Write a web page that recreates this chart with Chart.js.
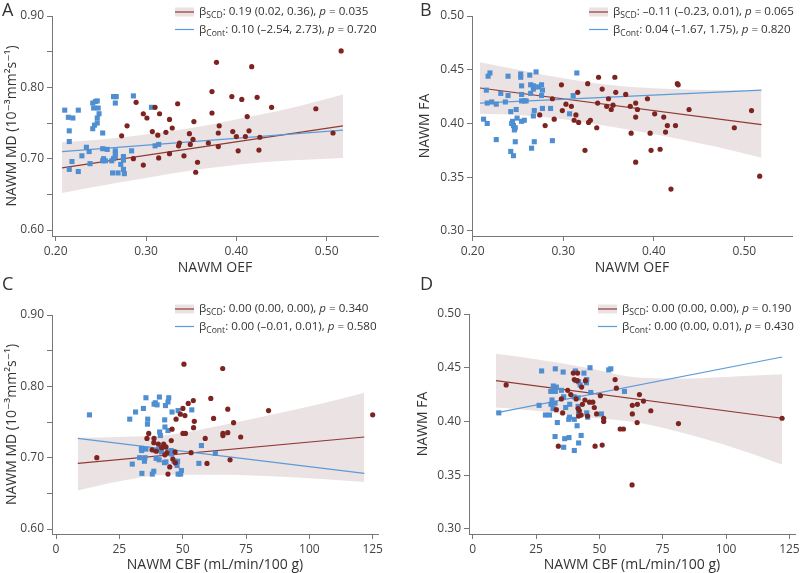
<!DOCTYPE html>
<html>
<head>
<meta charset="utf-8">
<script src="https://cdn.jsdelivr.net/npm/chart.js@4.4.1/dist/chart.umd.min.js"></script>
<style>
  body { margin: 0; background: #fff; width: 800px; height: 573px; overflow: hidden; position: relative; }
  canvas { position: absolute; }
</style>
</head>
<body>
<canvas id="cA" width="400" height="280" style="left:0;top:0"></canvas>
<canvas id="cB" width="400" height="280" style="left:400px;top:0"></canvas>
<canvas id="cC" width="400" height="301" style="left:0;top:272px"></canvas>
<canvas id="cD" width="400" height="301" style="left:400px;top:272px"></canvas>
<script>
// ---- data ----
// A: NAWM OEF vs NAWM MD
const oefScdA = [0.516,0.378,0.417,0.373,0.395,0.406,0.423,0.289,0.335,0.310,0.439,0.488,0.297,0.315,0.301,0.326,0.373,0.412,0.353,0.279,0.381,0.329,0.307,0.322,0.396,0.414,0.380,0.348,0.313,0.273,0.352,0.400,0.410,0.426,0.507,0.337,0.336,0.349,0.369,0.380,0.326,0.402,0.425,0.342,0.314,0.286,0.357,0.297,0.355]
const mdScdA = [0.851,0.835,0.829,0.794,0.787,0.783,0.786,0.779,0.777,0.772,0.772,0.770,0.763,0.763,0.757,0.755,0.764,0.759,0.752,0.746,0.746,0.743,0.738,0.737,0.738,0.739,0.736,0.735,0.733,0.732,0.727,0.731,0.731,0.730,0.736,0.722,0.718,0.720,0.722,0.717,0.707,0.711,0.712,0.704,0.701,0.700,0.695,0.691,0.681]
const oefContA = [0.210,0.214,0.219,0.225,0.215,0.215,0.241,0.244,0.246,0.242,0.247,0.248,0.246,0.246,0.243,0.241,0.252,0.264,0.266,0.267,0.266,0.286,0.306,0.234,0.237,0.229,0.218,0.215,0.225,0.238,0.252,0.257,0.253,0.255,0.252,0.262,0.264,0.266,0.266,0.266,0.275,0.275,0.275,0.276,0.263,0.269,0.284,0.310,0.314,0.272]
const mdContA = [0.768,0.758,0.757,0.768,0.739,0.724,0.778,0.780,0.781,0.771,0.771,0.763,0.757,0.750,0.747,0.742,0.736,0.787,0.787,0.787,0.778,0.788,0.772,0.716,0.710,0.704,0.696,0.685,0.682,0.693,0.714,0.713,0.700,0.697,0.697,0.697,0.700,0.703,0.711,0.707,0.703,0.698,0.685,0.679,0.680,0.680,0.711,0.718,0.720,0.692]
const fitXA = [0.207, 0.518]
const fitScdA = [0.687, 0.746]
const fitContA = [0.710, 0.740]
const bandXA = [0.207, 0.25, 0.30, 0.36, 0.42, 0.47, 0.518]
const bandHiA = [0.723, 0.727, 0.734, 0.745, 0.760, 0.774, 0.790]
const bandLoA = [0.652, 0.662, 0.673, 0.685, 0.694, 0.698, 0.701]
const legendA = [['SCD', ': 0.19 (0.02, 0.36), ', ' = 0.035'], ['Cont', ': 0.10 (\u20132.54, 2.73), ', ' = 0.720']]

// B: NAWM OEF vs NAWM FA
const oefScdB = [0.517,0.419,0.380,0.324,0.397,0.407,0.489,0.337,0.375,0.396,0.413,0.415,0.424,0.280,0.290,0.274,0.312,0.317,0.328,0.330,0.314,0.299,0.309,0.303,0.338,0.348,0.353,0.355,0.350,0.288,0.374,0.382,0.380,0.380,0.401,0.411,0.393,0.298,0.316,0.327,0.339,0.343,0.357,0.358,0.369,0.426,0.427,0.439,0.508]
const faScdB = [0.351,0.339,0.364,0.375,0.375,0.376,0.396,0.396,0.391,0.391,0.392,0.398,0.398,0.398,0.404,0.408,0.403,0.401,0.401,0.403,0.408,0.412,0.416,0.418,0.419,0.416,0.413,0.417,0.423,0.423,0.416,0.413,0.419,0.406,0.409,0.406,0.423,0.436,0.429,0.437,0.443,0.432,0.443,0.429,0.427,0.437,0.436,0.413,0.412]
const oefContB = [0.212,0.216,0.215,0.217,0.219,0.216,0.221,0.226,0.231,0.226,0.236,0.239,0.239,0.242,0.248,0.244,0.243,0.245,0.247,0.246,0.249,0.247,0.242,0.245,0.253,0.253,0.254,0.254,0.254,0.257,0.259,0.254,0.257,0.263,0.264,0.267,0.267,0.268,0.264,0.265,0.267,0.268,0.268,0.270,0.273,0.276,0.277,0.276,0.277,0.286,0.288,0.307,0.311,0.315]
const faContB = [0.404,0.400,0.431,0.444,0.447,0.419,0.420,0.418,0.428,0.385,0.420,0.444,0.426,0.411,0.413,0.402,0.400,0.398,0.396,0.394,0.405,0.383,0.374,0.370,0.446,0.443,0.435,0.427,0.421,0.421,0.421,0.402,0.403,0.445,0.436,0.435,0.432,0.434,0.428,0.377,0.407,0.412,0.383,0.448,0.434,0.436,0.431,0.426,0.414,0.414,0.384,0.409,0.426,0.447]
const fitXB = [0.208, 0.519]
const fitScdB = [0.433, 0.399]
const fitContB = [0.419, 0.431]
const bandXB = [0.208, 0.25, 0.30, 0.36, 0.42, 0.47, 0.519]
const bandHiB = [0.457, 0.450, 0.442, 0.435, 0.432, 0.431, 0.431]
const bandLoB = [0.409, 0.408, 0.404, 0.396, 0.387, 0.378, 0.368]
const legendB = [['SCD', ': \u20130.11 (\u20130.23, 0.01), ', ' = 0.065'], ['Cont', ': 0.04 (\u20131.67, 1.75), ', ' = 0.820']]

// C: NAWM CBF vs NAWM MD
const cbfScdC = [125.0,83.9,67.8,65.8,50.5,61.1,54.2,52.2,50.1,49.1,50.9,47.4,62.2,54.6,70.1,45.8,54.3,36.6,50.1,51.1,65.9,65.9,67.8,72.9,35.9,38.7,45.5,58.9,38.6,40.4,42.5,43.4,41.7,37.9,39.6,43.8,47.0,53.3,16.1,43.0,46.1,68.7,59.6,44.9,44.2,47.1]
const mdScdC = [0.760,0.766,0.768,0.825,0.831,0.783,0.780,0.776,0.769,0.761,0.759,0.754,0.755,0.751,0.749,0.740,0.742,0.734,0.734,0.734,0.734,0.731,0.735,0.729,0.727,0.727,0.724,0.727,0.721,0.719,0.719,0.715,0.714,0.711,0.709,0.707,0.708,0.707,0.700,0.704,0.698,0.697,0.692,0.687,0.677,0.693]
const cbfContC = [13.2,35.5,40.8,44.5,39.2,38.7,39.9,44.2,43.2,34.5,31.4,48.2,45.8,53.6,29.1,36.2,36.1,42.9,43.0,44.2,40.9,41.2,33.7,33.8,35.5,39.2,40.5,41.6,45.5,45.7,57.4,62.9,33.0,35.1,34.9,30.1,39.5,40.7,43.4,42.8,46.6,48.0,47.5,47.8,56.4,49.5,38.6,38.0,33.9,48.2,49.2]
const mdContC = [0.760,0.784,0.785,0.784,0.777,0.775,0.774,0.778,0.773,0.769,0.764,0.766,0.764,0.767,0.754,0.754,0.747,0.753,0.743,0.738,0.736,0.731,0.713,0.710,0.712,0.710,0.712,0.708,0.710,0.705,0.717,0.706,0.700,0.700,0.695,0.691,0.699,0.697,0.694,0.693,0.695,0.695,0.692,0.689,0.692,0.682,0.681,0.677,0.678,0.677,0.677]
const fitXC = [8.6, 121.7]
const fitScdC = [0.692, 0.729]
const fitContC = [0.727, 0.678]
const bandXC = [8.6, 25, 45, 65, 85, 105, 121.7]
const bandHiC = [0.728, 0.729, 0.732, 0.745, 0.760, 0.776, 0.791]
const bandLoC = [0.654, 0.667, 0.676, 0.676, 0.674, 0.670, 0.666]
const legendC = [['SCD', ': 0.00 (0.00, 0.00), ', ' = 0.340'], ['Cont', ': 0.00 (\u20130.01, 0.01), ', ' = 0.580']]

// D: NAWM CBF vs NAWM FA
const cbfScdD = [13.2,122.1,81.2,70.3,67.4,65.8,65.0,63.0,63.0,64.9,58.2,59.5,62.9,56.2,56.7,51.7,51.7,51.1,48.3,33.8,39.7,41.4,40.1,41.3,44.5,43.0,37.5,35.0,38.7,40.8,44.3,46.1,47.4,43.3,48.0,41.6,33.0,35.5,42.1,41.8,48.9,42.8,45.3,50.4]
const faScdD = [0.434,0.403,0.398,0.410,0.419,0.425,0.416,0.415,0.407,0.399,0.393,0.393,0.341,0.439,0.431,0.403,0.400,0.378,0.377,0.377,0.445,0.445,0.439,0.438,0.438,0.432,0.429,0.421,0.425,0.421,0.420,0.418,0.418,0.416,0.413,0.412,0.411,0.408,0.410,0.405,0.407,0.406,0.405,0.424]
const cbfContD = [10.3,27.2,32.6,35.7,40.5,43.9,46.3,53.7,54.5,40.8,41.8,42.4,45.0,44.9,31.8,33.0,32.6,30.8,35.0,46.6,59.9,31.3,30.9,35.9,40.0,41.6,32.5,38.3,26.2,36.7,41.6,31.7,28.7,30.3,38.2,37.9,40.1,41.8,45.0,45.4,50.8,33.4,41.2,32.5,36.3,38.0,42.8,41.8,35.9,40.1]
const faContD = [0.408,0.447,0.449,0.446,0.447,0.445,0.450,0.448,0.449,0.438,0.437,0.434,0.439,0.436,0.433,0.432,0.428,0.428,0.429,0.427,0.428,0.420,0.416,0.423,0.423,0.422,0.417,0.416,0.415,0.413,0.414,0.412,0.406,0.406,0.404,0.402,0.402,0.408,0.408,0.404,0.407,0.399,0.396,0.386,0.384,0.385,0.387,0.380,0.376,0.373]
const fitXD = [9.2, 122.1]
const fitScdD = [0.438, 0.403]
const fitContD = [0.408, 0.460]
const bandXD = [9.2, 25, 45, 65, 85, 105, 122.1]
const bandHiD = [0.463, 0.458, 0.450, 0.441, 0.440, 0.442, 0.444]
const bandLoD = [0.413, 0.410, 0.404, 0.399, 0.388, 0.374, 0.360]
const legendD = [['SCD', ': 0.00 (0.00, 0.00), ', ' = 0.190'], ['Cont', ': 0.00 (0.00, 0.01), ', ' = 0.430']]

// tick values
const oefTicks = [0.20, 0.30, 0.40, 0.50]
const cbfTicks = [0, 25, 50, 75, 100, 125]
const mdTicks = [0.60, 0.65, 0.70, 0.75, 0.80, 0.85, 0.90]
const faTicks = [0.30, 0.35, 0.40, 0.45, 0.50]

// ---- styling ----
const BAND = '#ebe2e3', RED = '#7e2420', RED_LINE = '#8f3a35', BLUE = '#4f8ed0', BLUE_LINE = '#5c9bd9'
const FONT = '"Open Sans", "DejaVu Sans", sans-serif'
const MD_TITLE = 'NAWM MD (10\u207B\u00B3mm\u00B2s\u207B\u00B9)'

function zip(xs, ys) { return xs.map((x, i) => ({ x: x, y: ys[i] })) }
const fmt2 = v => v.toFixed(2)
const fmtMd = v => (Math.round(v * 100) % 10 === 0 ? v.toFixed(2) : '')
const fmtInt = v => String(v)

// panel letter + custom legend with subscripts
const deco = {
  id: 'deco',
  afterDraw(chart, args, o) {
    const ctx = chart.ctx
    ctx.save()
    ctx.fillStyle = '#333'
    ctx.font = '18px ' + FONT
    ctx.textBaseline = 'alphabetic'
    ctx.fillText(o.letter, o.letterX, o.letterY)
    o.rows.forEach((row, i) => {
      const y = o.legendY + i * 17.5
      if (i === 0) { ctx.fillStyle = BAND; ctx.fillRect(o.legendX, y - 4.5, 19, 9) }
      ctx.strokeStyle = i === 0 ? RED_LINE : BLUE_LINE
      ctx.lineWidth = 1.2
      ctx.beginPath(); ctx.moveTo(o.legendX, y); ctx.lineTo(o.legendX + 19, y); ctx.stroke()
      let x = o.legendX + 24
      ctx.fillStyle = '#333'
      ctx.textBaseline = 'middle'
      const put = (t, font, dy) => { ctx.font = font; ctx.fillText(t, x, y + dy); x += ctx.measureText(t).width }
      put('\u03B2', '11.6px ' + FONT, 0)
      put(row[0], '8.6px ' + FONT, 4)
      put(row[1], '11.6px ' + FONT, 0)
      put('p', 'italic 11.6px ' + FONT, 0)
      put(row[2], '11.6px ' + FONT, 0)
    })
    ctx.restore()
  }
}

function axis(min, max, ticks, fmt, title, size, isX, titlePadBottom) {
  return {
    type: 'linear', min: min, max: max,
    afterBuildTicks: s => { s.ticks = ticks.map(v => ({ value: v })) },
    afterFit: s => {
      if (isX) s.height = size; else s.width = size
      s.paddingLeft = s.paddingRight = s.paddingTop = s.paddingBottom = 0
    },
    ticks: { callback: fmt, color: '#444', font: { family: FONT, size: 12 }, padding: 3, maxRotation: 0, autoSkip: false },
    grid: { drawOnChartArea: false, tickLength: 5, color: '#777' },
    border: { color: '#777', width: 1 },
    title: { display: true, text: title, color: '#333', font: { family: FONT, size: 14 }, padding: { top: 4, bottom: titlePadBottom } }
  }
}

function panel(id, p) {
  new Chart(document.getElementById(id), {
    type: 'scatter',
    data: {
      datasets: [
        { type: 'line', data: zip(p.bandX, p.bandHi), fill: '+1', backgroundColor: BAND, borderColor: 'rgba(0,0,0,0)', borderWidth: 0, pointRadius: 0, showLine: true, cubicInterpolationMode: 'monotone', order: 6 },
        { type: 'line', data: zip(p.bandX, p.bandLo), fill: false, borderColor: 'rgba(0,0,0,0)', borderWidth: 0, pointRadius: 0, showLine: true, cubicInterpolationMode: 'monotone', order: 5 },
        { type: 'line', data: zip(p.fitX, p.fitScd), fill: false, borderColor: RED_LINE, borderWidth: 1.2, pointRadius: 0, showLine: true, order: 4 },
        { type: 'line', data: zip(p.fitX, p.fitCont), fill: false, borderColor: BLUE_LINE, borderWidth: 1.2, pointRadius: 0, showLine: true, order: 3 },
        { data: zip(p.contX, p.contY), pointStyle: 'rect', pointRadius: 3.6, backgroundColor: BLUE, borderWidth: 0, order: 2 },
        { data: zip(p.scdX, p.scdY), pointStyle: 'circle', pointRadius: 2.6, backgroundColor: RED, borderWidth: 0, order: 1 }
      ]
    },
    options: {
      responsive: false,
      animation: false,
      layout: { padding: p.pad },
      plugins: {
        legend: { display: false },
        tooltip: { enabled: false },
        deco: p.deco
      },
      scales: { x: p.x, y: p.y }
    },
    plugins: [deco]
  })
}

panel('cA', {
  scdX: oefScdA, scdY: mdScdA, contX: oefContA, contY: mdContA,
  fitX: fitXA, fitScd: fitScdA, fitCont: fitContA, bandX: bandXA, bandHi: bandHiA, bandLo: bandLoA,
  pad: { left: 0, top: 16, right: 22, bottom: 0 },
  x: axis(0.1959, 0.5568, oefTicks, fmt2, 'NAWM OEF', 44, true, 4),
  y: axis(0.5916, 0.90, mdTicks, fmtMd, MD_TITLE, 52, false, 4),
  deco: { letter: 'A', letterX: 2, letterY: 16, rows: legendA, legendX: 175, legendY: 12 }
})

panel('cB', {
  scdX: oefScdB, scdY: faScdB, contX: oefContB, contY: faContB,
  fitX: fitXB, fitScd: fitScdB, fitCont: fitContB, bandX: bandXB, bandHi: bandHiB, bandLo: bandLoB,
  pad: { left: 13, top: 16, right: 8, bottom: 0 },
  x: axis(0.1992, 0.5527, oefTicks, fmt2, 'NAWM OEF', 44, true, 4),
  y: axis(0.2953, 0.50, faTicks, fmt2, 'NAWM FA', 59, false, 4),
  deco: { letter: 'B', letterX: 20, letterY: 16, rows: legendB, legendX: 189, legendY: 12 }
})

panel('cC', {
  scdX: cbfScdC, scdY: mdScdC, contX: cbfContC, contY: mdContC,
  fitX: fitXC, fitScd: fitScdC, fitCont: fitContC, bandX: bandXC, bandHi: bandHiC, bandLo: bandLoC,
  pad: { left: 0, top: 43, right: 22, bottom: 0 },
  x: axis(-1.58, 127.1, cbfTicks, fmtInt, 'NAWM CBF (mL/min/100 g)', 39, true, 0),
  y: axis(0.593, 0.90, mdTicks, fmtMd, MD_TITLE, 52, false, 4),
  deco: { letter: 'C', letterX: 2, letterY: 18, rows: legendC, legendX: 175, legendY: 37 }
})

panel('cD', {
  scdX: cbfScdD, scdY: faScdD, contX: cbfContD, contY: faContD,
  fitX: fitXD, fitScd: fitScdD, fitCont: fitContD, bandX: bandXD, bandHi: bandHiD, bandLo: bandLoD,
  pad: { left: 11, top: 42, right: 5, bottom: 0 },
  x: axis(-1.46, 127.2, cbfTicks, fmtInt, 'NAWM CBF (mL/min/100 g)', 39, true, 0),
  y: axis(0.2953, 0.50, faTicks, fmt2, 'NAWM FA', 58, false, 4),
  deco: { letter: 'D', letterX: 20, letterY: 18, rows: legendD, legendX: 198, legendY: 37 }
})
</script>
</body>
</html>
